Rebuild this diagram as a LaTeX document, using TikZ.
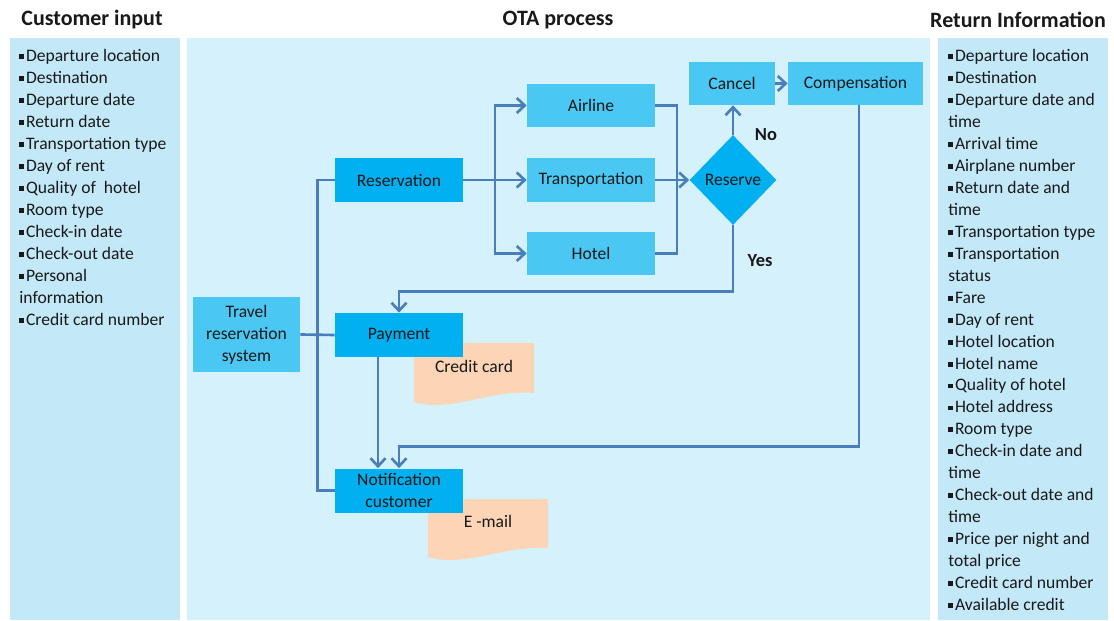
\documentclass[tikz,border=0pt]{standalone}
\usepackage{fontspec}
\setmainfont{Carlito}
\usetikzlibrary{shapes.geometric,arrows.meta}
\usepackage{xcolor}

\definecolor{sidepanel}{HTML}{C3E9F9}
\definecolor{midpanel}{HTML}{D5F1FC}
\definecolor{strongbox}{HTML}{00B0F0}
\definecolor{lightbox}{HTML}{4BC7F3}
\definecolor{peach}{HTML}{FBD5B5}
\definecolor{flowline}{HTML}{4A7EBB}

\newcommand{\sqb}{\rule[0.3ex]{2.8pt}{2.8pt}\hspace{1pt}}

\begin{document}
\begin{tikzpicture}[x=0.02cm,y=-0.02cm,
    every node/.style={font=\fontsize{10}{12.47}\selectfont, text=black!90},
    strongstep/.style={rectangle, fill=strongbox, minimum width=2.56cm, minimum height=0.88cm, inner sep=1pt, align=center},
    lightstep/.style={rectangle, fill=lightbox, minimum width=2.56cm, minimum height=0.88cm, inner sep=1pt, align=center},
    choice/.style={diamond, fill=strongbox, minimum width=1.74cm, minimum height=1.8cm, inner sep=0pt},
    heading/.style={font=\fontsize{12.5}{14}\selectfont\bfseries},
    itemlist/.style={anchor=north west, inner sep=0pt, align=left, font=\fontsize{10}{12.5}\selectfont},
    flow/.style={draw=flowline, line width=1.5pt},
    go/.style={flow, -{Straight Barb[length=1.6mm,width=3mm]}}]
    \useasboundingbox (0,0) rectangle (1114,621);

    % panels
    \fill[sidepanel] (10,38) rectangle (180,620);
    \fill[midpanel] (187,38) rectangle (930,620);
    \fill[sidepanel] (938,38) rectangle (1108,620);

    \node[heading] (tinput) at (92,20) {Customer input};
    \node[heading] (tota) at (558,20) {OTA process};
    \node[heading] (treturn) at (1018,20) {Return Information};

    \node[itemlist] (inlist) at (19,49) {\sqb Departure location\\ \sqb Destination\\ \sqb Departure date\\ \sqb Return date\\
        \sqb Transportation type\\ \sqb Day of rent\\ \sqb Quality of~ hotel\\ \sqb Room type\\ \sqb Check-in date\\
        \sqb Check-out date\\ \sqb Personal\\ information\\ \sqb Credit card number};

    \node[itemlist] (outlist) at (948,49) {\sqb Departure location\\ \sqb Destination\\ \sqb Departure date and\\ time\\
        \sqb Arrival time\\ \sqb Airplane number\\ \sqb Return date and\\ time\\ \sqb Transportation type\\
        \sqb Transportation\\ status\\ \sqb Fare\\ \sqb Day of rent\\ \sqb Hotel location\\ \sqb Hotel name\\
        \sqb Quality of hotel\\ \sqb Hotel address\\ \sqb Room type\\ \sqb Check-in date and\\ time\\
        \sqb Check-out date and\\ time\\ \sqb Price per night and\\ total price\\ \sqb Credit card number\\ \sqb Available credit};

    % documents behind the boxes
    \fill[peach] (414,343) -- (534,343) -- (534,393) .. controls (490,389) and (452,413) .. (414,402) -- cycle;
    \fill[peach] (428,499) -- (548,499) -- (548,548) .. controls (504,545) and (466,568) .. (428,557) -- cycle;
    \node (card) at (474,366) {Credit card};
    \node (mail) at (488,521) {E -mail};

    % process boxes
    \node[lightstep, minimum width=2.14cm, minimum height=1.5cm] (trs) at (246.5,334.5) {Travel\\ reservation\\ system};
    \node[strongstep] (resv) at (399,180) {Reservation};
    \node[strongstep] (pay) at (399,335) {Payment};
    \node[strongstep] (notif) at (399,490.5) {Notification\\ customer};
    \node[lightstep] (air) at (591,105.5) {Airline};
    \node[lightstep] (trans) at (591,180) {Transportation};
    \node[lightstep] (hotel) at (591,253.5) {Hotel};
    \node[choice] (reserve) at (733,180) {Reserve};
    \node[lightstep, minimum width=1.72cm, minimum height=0.86cm] (cancel) at (732,83.5) {Cancel};
    \node[lightstep, minimum width=2.7cm, minimum height=0.86cm] (comp) at (855.5,83.5) {Compensation};

    \node[font=\fontsize{10.5}{12}\selectfont\bfseries] (nolabel) at (766,135) {No};
    \node[font=\fontsize{10.5}{12}\selectfont\bfseries] (yeslabel) at (760,261) {Yes};

    % connectors
    \coordinate (fork) at (495,180);
    \coordinate (join) at (677,180);
    \draw[flow] (resv.west) -- ++(-17,0) |- (notif.west);
    \draw[flow] (trs.east) -- (pay.west);
    \draw[flow] (resv.east) -- (fork);
    \draw[go] (fork) |- (air.west);
    \draw[go] (fork) -- (trans.west);
    \draw[go] (fork) |- (hotel.west);
    \draw[flow] (air.east) -| (join) |- (hotel.east);
    \draw[go] (trans.east) -- (reserve.west);
    \draw[go] (reserve.north) -- (reserve.north |- cancel.south);
    \draw[go] (cancel.east) -- (comp.west);
    \draw[go] (reserve.south) -- ++(0,66) -| (pay.north);
    \draw[go] ([xshift=2pt]comp.south) -- ++(0,341) -| (notif.north);
    \draw[go] ([xshift=-0.42cm]pay.south) -- ([xshift=-0.42cm]notif.north);

\end{tikzpicture}
\end{document}
